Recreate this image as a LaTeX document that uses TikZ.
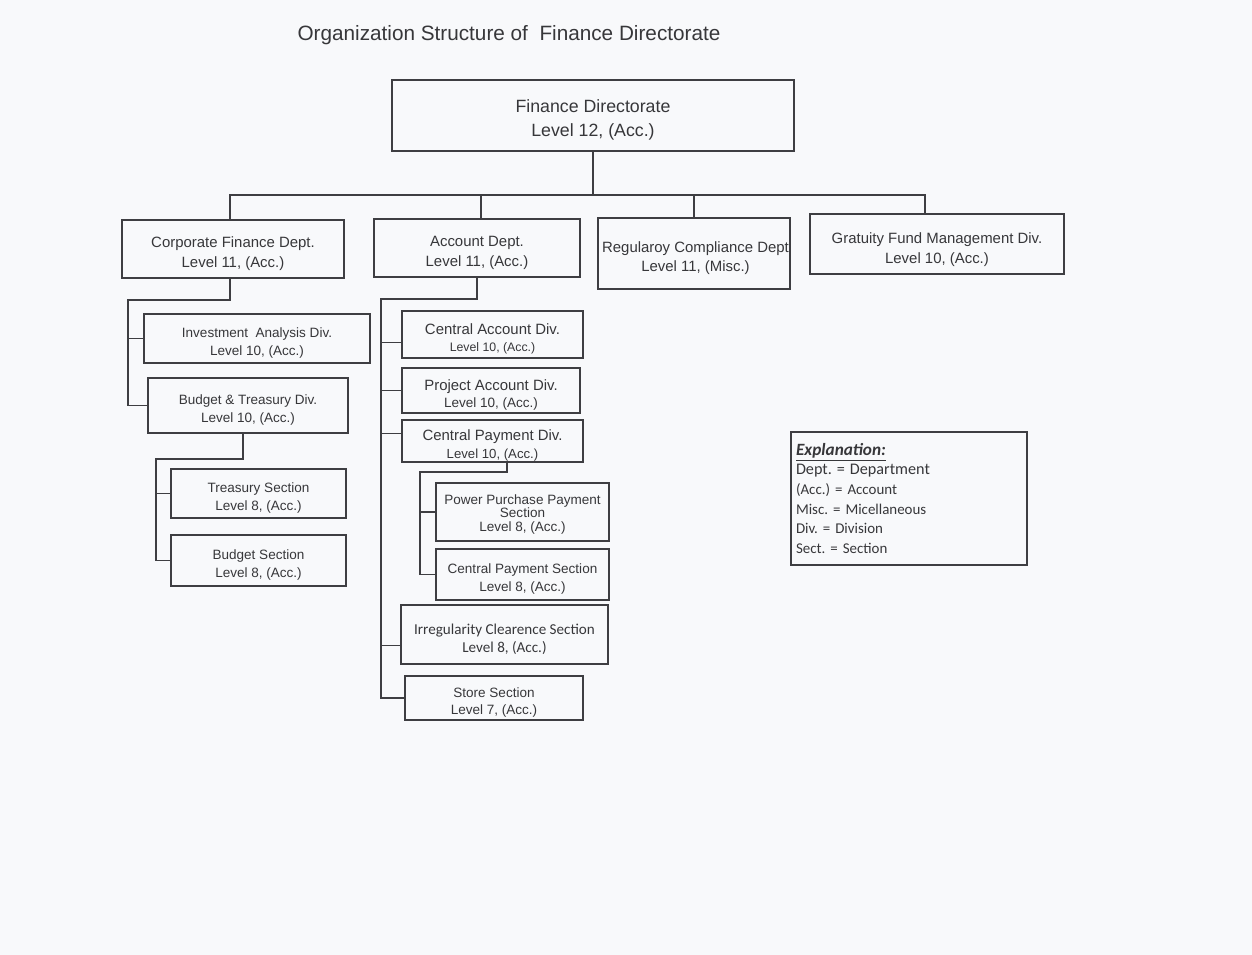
\documentclass[tikz,border=0pt]{standalone}
\usepackage{fontspec}
\setmainfont{Liberation Sans}
\newfontfamily\calib{Carlito}
\usetikzlibrary{calc}
\frenchspacing
\definecolor{bgc}{RGB}{248,249,251}
\definecolor{inkc}{RGB}{55,55,58}
\definecolor{linec}{RGB}{62,62,66}
\tikzset{
  box/.style={draw=linec, line width=0.7pt, inner sep=0pt, fill=bgc},
  tx/.style={text=inkc, align=center, inner sep=0pt, yshift=-0.09cm},
  wire/.style={draw=linec, line width=0.7pt},
  fA/.style={font=\fontsize{8.5}{11.3}\selectfont},
  fS/.style={font=\fontsize{7.7}{9.7}\selectfont},
}
\begin{document}
\begin{tikzpicture}[x=0.02cm,y=-0.02cm]
\fill[bgc] (0,0) rectangle (1252,955);
\useasboundingbox (0,0) rectangle (1252,955);

\node[text=inkc, font=\fontsize{11.8}{14}\selectfont] (title) at (509,35) {Organization Structure of\ \ Finance Directorate};

\node[box, minimum width=8.04cm, minimum height=1.42cm,
  label={[tx, font=\fontsize{10.1}{13.6}\selectfont]center:{Finance Directorate\\Level 12, (Acc.)}}] (fd) at (593,115.5) {};

\node[box, minimum width=4.44cm, minimum height=1.16cm,
  label={[tx, fA]center:{Corporate Finance Dept.\\Level 11, (Acc.)}}] (cf) at (233,249) {};
\node[box, minimum width=4.12cm, minimum height=1.16cm,
  label={[tx, fA]center:{Account Dept.\\Level 11, (Acc.)}}] (ad) at (477,248) {};
\node[box, minimum width=3.84cm, minimum height=1.42cm,
  label={[tx, font=\fontsize{8.5}{10.8}\selectfont, xshift=0.03cm]center:{Regularoy Compliance Dept\\Level 11, (Misc.)}}] (rc) at (694,253.5) {};
\node[box, minimum width=5.08cm, minimum height=1.2cm,
  label={[tx, fA, yshift=-0.02cm]center:{Gratuity Fund Management Div.\\Level 10, (Acc.)}}] (gf) at (937,244) {};

\node[box, minimum width=4.52cm, minimum height=0.98cm,
  label={[tx, fS]center:{Investment\ \ Analysis Div.\\Level 10, (Acc.)}}] (ia) at (257,338.5) {};
\node[box, minimum width=4.0cm, minimum height=1.1cm,
  label={[tx, fS]center:{Budget \& Treasury Div.\\Level 10, (Acc.)}}] (bt) at (248,405.5) {};
\node[box, minimum width=3.5cm, minimum height=0.98cm,
  label={[tx, fS]center:{Treasury Section\\Level 8, (Acc.)}}] (ts) at (258.5,493.5) {};
\node[box, minimum width=3.5cm, minimum height=1.02cm,
  label={[tx, fS]center:{Budget Section\\Level 8, (Acc.)}}] (bs) at (258.5,560.5) {};

\node[box, minimum width=3.62cm, minimum height=0.94cm,
  label={[tx, font=\fontsize{7}{9.6}\selectfont]center:{{\fontsize{8.5}{9.6}\selectfont Central Account Div.}\\Level 10, (Acc.)}}] (ca) at (492.5,334.5) {};
\node[box, minimum width=3.56cm, minimum height=0.9cm,
  label={[tx, font=\fontsize{7.7}{10.2}\selectfont]center:{{\fontsize{8.5}{10.2}\selectfont Project Account Div.}\\Level 10, (Acc.)}}] (pa) at (491,390.5) {};
\node[box, minimum width=3.62cm, minimum height=0.84cm,
  label={[tx, font=\fontsize{7.5}{10.2}\selectfont]center:{{\fontsize{8.5}{10.2}\selectfont Central Payment Div.}\\Level 10, (Acc.)}}] (cp) at (492.5,441) {};
\node[box, minimum width=3.46cm, minimum height=1.16cm,
  label={[tx, font=\fontsize{7.7}{7.8}\selectfont, yshift=0.04cm]center:{Power Purchase Payment\\Section\\Level 8, (Acc.)}}] (pp) at (522.5,512) {};
\node[box, minimum width=3.46cm, minimum height=1.02cm,
  label={[tx, fS]center:{Central Payment Section\\Level 8, (Acc.)}}] (cs) at (522.5,574.5) {};
\node[box, minimum width=4.14cm, minimum height=1.18cm,
  label={[tx, font=\calib\fontsize{8.6}{10.2}\selectfont]center:{Irregularity Clearence Section\\Level 8, (Acc.)}}] (ir) at (504.5,634.5) {};
\node[box, minimum width=3.56cm, minimum height=0.88cm,
  label={[tx, fS]center:{Store Section\\Level 7, (Acc.)}}] (st) at (494,698) {};

\node[box, text=inkc, align=left, inner xsep=0.1cm, text width=4.52cm, minimum height=2.66cm, font=\calib\fontsize{8.5}{11.2}\selectfont] (ex) at (909,498.5)
  {{\fontsize{9.8}{11.2}\selectfont\bfseries\itshape\underline{Explanation:}}\\
   {\fontsize{9.2}{11.2}\selectfont Dept. = Department}\\
   (Acc.) = Account\\
   Misc. = Micellaneous\\
   Div. = Division\\
   Sect. = Section};

% top level bus
\coordinate (bus) at (594,195);
\coordinate (b1) at (230,195);
\coordinate (b2) at (481,195);
\coordinate (b3) at (694,195);
\coordinate (b4) at (925,195);
\draw[wire] (fd.south) -- (fd.south |- bus);
\draw[wire] (b1 |- cf.north) -- (b1) -- (b4) -- (b4 |- gf.north);
\draw[wire] (b2) -- (b2 |- ad.north);
\draw[wire] (b3) -- (b3 |- rc.north);

% corporate finance children
\coordinate (c1) at (230,300);
\coordinate (c2) at (128,300);
\draw[wire] (c1 |- cf.south) -- (c1) -- (c2) -- (c2 |- bt.west) -- (bt.west);
\draw[wire] (c2 |- ia.west) -- (ia.west);

% budget & treasury children
\coordinate (d1) at (243,459);
\coordinate (d2) at (156,459);
\draw[wire] (d1 |- bt.south) -- (d1) -- (d2) -- (d2 |- bs.west) -- (bs.west);
\draw[wire] (d2 |- ts.west) -- (ts.west);

% account dept children
\coordinate (e1) at (477,299);
\coordinate (e2) at (381,299);
\coordinate (caw) at ($(ca.south west)!0.33!(ca.north west)$);
\coordinate (cpw) at ($(cp.south west)!0.67!(cp.north west)$);
\coordinate (irw) at ($(ir.south west)!0.32!(ir.north west)$);
\draw[wire] (e1 |- ad.south) -- (e1) -- (e2) -- (e2 |- st.west) -- (st.west);
\draw[wire] (e2 |- caw) -- (caw);
\draw[wire] (e2 |- pa.west) -- (pa.west);
\draw[wire] (e2 |- cpw) -- (cpw);
\draw[wire] (e2 |- irw) -- (irw);

% central payment children
\coordinate (f1) at (507,472);
\coordinate (f2) at (420,472);
\draw[wire] (f1 |- cp.south) -- (f1) -- (f2) -- (f2 |- cs.west) -- (cs.west);
\draw[wire] (f2 |- pp.west) -- (pp.west);
\end{tikzpicture}
\end{document}
